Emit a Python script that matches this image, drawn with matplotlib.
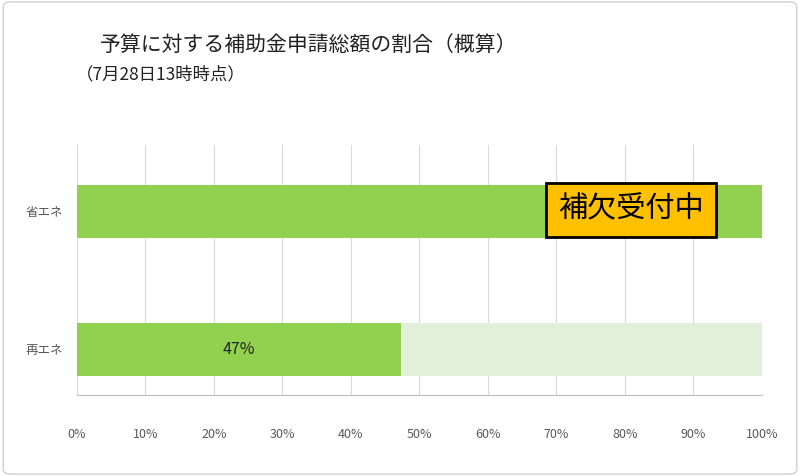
import matplotlib.pyplot as plt
from matplotlib.patches import FancyBboxPatch

plt.rcParams['font.family'] = ['Noto Sans CJK JP', 'DejaVu Sans']

categories = ["再エネ", "省エネ"]
ratios = [47.3, 100.0]
label_texts = ["47%", ""]
status_text = "補欠受付中"

fig = plt.figure(figsize=(8, 4.76), dpi=100)
fig.patches.append(FancyBboxPatch((0.004, 0.004), 0.992, 0.992, boxstyle="round,pad=0,rounding_size=0.01",
                                  transform=fig.transFigure, fill=False, edgecolor="#d0d0d0", linewidth=1))
ax = fig.add_axes([0.09625, 0.17, 0.856, 0.525])

y = range(len(categories))
ax.barh(y, [100] * len(categories), height=0.384, color="#E2EFDA")
ax.barh(y, ratios, height=0.384, color="#92D050")
for i, t in enumerate(label_texts):
    if t:
        ax.text(ratios[i] / 2, i, t, ha="center", va="center", fontsize=11.5, color="#222222")

ax.text(80.9, 1.01, status_text, ha="center", va="center", fontsize=21, color="black",
        bbox=dict(boxstyle="square,pad=0.42", facecolor="#FFC000", edgecolor="black", linewidth=2))

ax.set_xlim(0, 100)
ax.set_ylim(-0.333, 1.478)
ax.set_xticks(range(0, 101, 10))
ax.set_xticklabels([f"{v}%" for v in range(0, 101, 10)], fontsize=9, color="#595959")
ax.set_yticks(list(y))
ax.set_yticklabels(categories, fontsize=9, color="#595959")
ax.tick_params(axis="y", length=0, pad=10)
ax.tick_params(axis="x", length=0, pad=24)
ax.grid(axis="x", color="#d9d9d9", linewidth=0.8)
ax.set_axisbelow(True)
for s in ["top", "right", "left"]:
    ax.spines[s].set_visible(False)
ax.spines["bottom"].set_color("#bfbfbf")

fig.text(0.125, 0.905, "予算に対する補助金申請総額の割合（概算）", fontsize=15, color="#222222", va="center")
fig.text(0.095, 0.843, "（7月28日13時時点）", fontsize=12.5, color="#222222", va="center")

fig.savefig("out.png", dpi=100)
